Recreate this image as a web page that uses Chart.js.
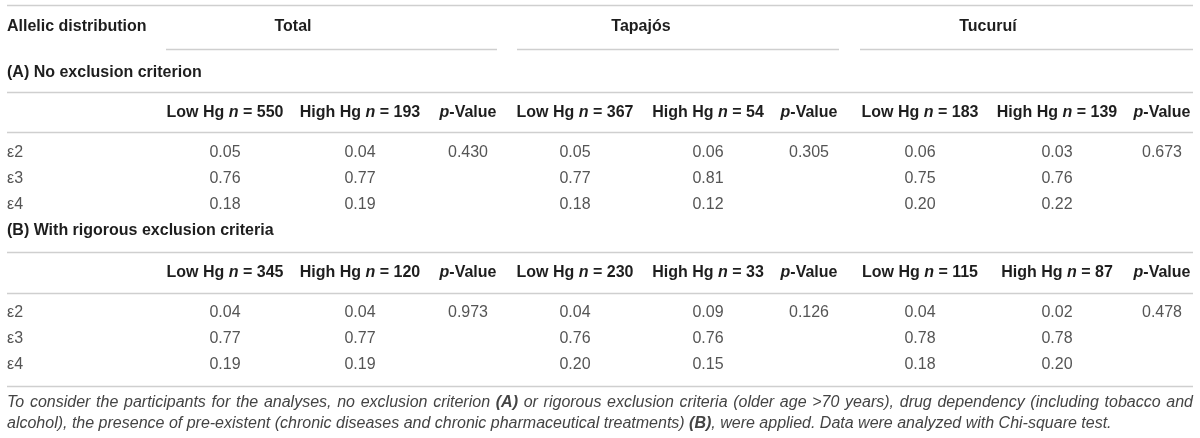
<!DOCTYPE html>
<html>
<head>
<meta charset="utf-8">
<script src="https://cdn.jsdelivr.net/npm/chart.js@4.4.1/dist/chart.umd.min.js"></script>
<style>
  html, body { margin: 0; padding: 0; background: #fff; }
  #wrap { width: 1200px; height: 438px; }
</style>
</head>
<body>
<div id="wrap"><canvas id="table" width="1200" height="438"></canvas></div>
<script>
const alleles = ['ε2', 'ε3', 'ε4'];
const groups = ['Total', 'Tapajós', 'Tucuruí'];

// sample sizes per group: (A) no exclusion, (B) rigorous exclusion
const nLowA = [550, 367, 183];
const nHighA = [193, 54, 139];
const nLowB = [345, 230, 115];
const nHighB = [120, 33, 87];

// (A) allele frequencies, rows follow `alleles`
const aTotalLow = [0.05, 0.76, 0.18];
const aTotalHigh = [0.04, 0.77, 0.19];
const aTapajosLow = [0.05, 0.77, 0.18];
const aTapajosHigh = [0.06, 0.81, 0.12];
const aTucuruiLow = [0.06, 0.75, 0.20];
const aTucuruiHigh = [0.03, 0.76, 0.22];
const aPValues = [0.430, 0.305, 0.673];

// (B) allele frequencies
const bTotalLow = [0.04, 0.77, 0.19];
const bTotalHigh = [0.04, 0.77, 0.19];
const bTapajosLow = [0.04, 0.76, 0.20];
const bTapajosHigh = [0.09, 0.76, 0.15];
const bTucuruiLow = [0.04, 0.78, 0.18];
const bTucuruiHigh = [0.02, 0.78, 0.20];
const bPValues = [0.973, 0.126, 0.478];

// ---- layout (scale units == canvas px) ----
const FAM = '"Liberation Sans", Arial, Helvetica, sans-serif';
const HEAD = '#1e1e1e';
const BODY = '#555';
const RULE = '#cfcfcf';
const LEFT = 7, RIGHT = 1193;
const colX = [225, 360, 468, 575, 708, 809, 920, 1057, 1162];
const groupTitleX = [293, 641, 988];
const groupRule = [[166, 497], [517, 839], [860, 1193]];
const rowsY = {
  title: 27, groupRule: 49,
  secA: 73, headA: 113, bodyA: [153, 179, 205],
  secB: 231, headB: 273, bodyB: [313, 339, 365],
  foot: [403, 424]
};
const fullRules = [5, 92, 132, 252, 293, 386];

const f = (style, size) => `${style} ${size}px ${FAM}`;

function headerRuns(label, n) {
  return [
    { text: label + ' ', font: f('bold', 16), color: HEAD },
    { text: 'n', font: f('italic bold', 16), color: HEAD },
    { text: ' = ' + n, font: f('bold', 16), color: HEAD }
  ];
}
const pRuns = [
  { text: 'p', font: f('italic bold', 16), color: HEAD },
  { text: '-Value', font: f('bold', 16), color: HEAD }
];

function headerDataset(nLow, nHigh, y) {
  const cells = [];
  groups.forEach((g, i) => {
    cells.push(headerRuns('Low Hg', nLow[i]));
    cells.push(headerRuns('High Hg', nHigh[i]));
    cells.push(pRuns);
  });
  return {
    data: cells.map((c, i) => ({ x: colX[i], y: y })),
    cells: cells, align: 'center'
  };
}

function valueDataset(values, col, rowY, digits) {
  return {
    data: values.map((v, i) => ({ x: colX[col], y: rowY[i] })),
    cells: values.map(v => [{ text: v.toFixed(digits), font: f('normal', 16), color: BODY }]),
    align: 'center'
  };
}

// cols: [low, high] pairs per group, p-value only on the first allele row
function blockDatasets(cols, pValues, rowY) {
  const out = [];
  cols.forEach((vals, k) => {
    const g = Math.floor(k / 2);
    out.push(valueDataset(vals, g * 3 + (k % 2), rowY, 2));
    if (k % 2 === 1) out.push(valueDataset([pValues[g]], g * 3 + 2, rowY, 3));
  });
  return out;
}

const alleleDataset = rowY => ({
  data: alleles.map((a, i) => ({ x: LEFT, y: rowY[i] })),
  cells: alleles.map(a => [{ text: a, font: f('normal', 16), color: BODY }]),
  align: 'left'
});

const textDataset = (text, x, y, align) => ({
  data: [{ x: x, y: y }],
  cells: [[{ text: text, font: f('bold', 16), color: HEAD }]],
  align: align
});

const datasets = [
  textDataset('Allelic distribution', LEFT, rowsY.title, 'left'),
  ...groups.map((g, i) => textDataset(g, groupTitleX[i], rowsY.title, 'center')),
  textDataset('(A) No exclusion criterion', LEFT, rowsY.secA, 'left'),
  headerDataset(nLowA, nHighA, rowsY.headA),
  alleleDataset(rowsY.bodyA),
  ...blockDatasets([aTotalLow, aTotalHigh, aTapajosLow, aTapajosHigh, aTucuruiLow, aTucuruiHigh], aPValues, rowsY.bodyA),
  textDataset('(B) With rigorous exclusion criteria', LEFT, rowsY.secB, 'left'),
  headerDataset(nLowB, nHighB, rowsY.headB),
  alleleDataset(rowsY.bodyB),
  ...blockDatasets([bTotalLow, bTotalHigh, bTapajosLow, bTapajosHigh, bTucuruiLow, bTucuruiHigh], bPValues, rowsY.bodyB)
].map(ds => Object.assign(ds, { pointRadius: 0, pointHoverRadius: 0, showLine: false }));

// footnote, line 1 is justified to the full table width
const noteFont = f('italic', 16), noteBold = f('italic bold', 16), NOTE = '#444';
const footLines = [
  [
    { text: 'To consider the participants for the analyses, no exclusion criterion ', font: noteFont, color: NOTE },
    { text: '(A)', font: noteBold, color: NOTE },
    { text: ' or rigorous exclusion criteria (older age >70 years), drug dependency (including tobacco and', font: noteFont, color: NOTE }
  ],
  [
    { text: 'alcohol), the presence of pre-existent (chronic diseases and chronic pharmaceutical treatments) ', font: noteFont, color: NOTE },
    { text: '(B)', font: noteBold, color: NOTE },
    { text: ', were applied. Data were analyzed with Chi-square test.', font: noteFont, color: NOTE }
  ]
];

function runsWidth(ctx, runs) {
  return runs.reduce((w, r) => { ctx.font = r.font; return w + ctx.measureText(r.text).width; }, 0);
}

function drawRuns(ctx, runs, x, y, align, justifyTo) {
  const w = runsWidth(ctx, runs);
  let sx = align === 'center' ? x - w / 2 : align === 'right' ? x - w : x;
  let extra = 0;
  if (justifyTo) {
    const spaces = runs.reduce((n, r) => n + (r.text.split(' ').length - 1), 0);
    extra = spaces ? (justifyTo - w) / spaces : 0;
  }
  runs.forEach(r => {
    ctx.font = r.font;
    ctx.fillStyle = r.color;
    const parts = r.text.split(' ');
    parts.forEach((p, j) => {
      if (p) ctx.fillText(p, sx, y);
      sx += ctx.measureText(p).width;
      if (j < parts.length - 1) sx += ctx.measureText(' ').width + extra;
    });
  });
}

const tablePlugin = {
  id: 'tableText',
  beforeDatasetsDraw(chart) {
    const { ctx, scales: { x, y } } = chart;
    ctx.save();
    ctx.strokeStyle = RULE;
    ctx.lineWidth = 1.5;
    const hline = (x0, x1, yy) => {
      const py = Math.round(y.getPixelForValue(yy)) + 0.5;
      ctx.beginPath();
      ctx.moveTo(x.getPixelForValue(x0), py);
      ctx.lineTo(x.getPixelForValue(x1), py);
      ctx.stroke();
    };
    fullRules.forEach(r => hline(LEFT, RIGHT, r));
    groupRule.forEach(([a, b]) => hline(a, b, rowsY.groupRule));
    ctx.restore();
  },
  afterDatasetsDraw(chart) {
    const { ctx, scales: { x, y } } = chart;
    ctx.save();
    ctx.textBaseline = 'middle';
    ctx.textAlign = 'left';
    chart.data.datasets.forEach((ds, i) => {
      chart.getDatasetMeta(i).data.forEach((el, k) => {
        drawRuns(ctx, ds.cells[k], el.x, el.y, ds.align);
      });
    });
    footLines.forEach((runs, i) => {
      const py = y.getPixelForValue(rowsY.foot[i]);
      const px = x.getPixelForValue(LEFT);
      const full = x.getPixelForValue(RIGHT) - px;
      drawRuns(ctx, runs, px, py, 'left', i === 0 ? full : null);
    });
    ctx.restore();
  }
};

new Chart(document.getElementById('table').getContext('2d'), {
  type: 'scatter',
  data: { datasets: datasets },
  options: {
    responsive: false,
    animation: false,
    events: [],
    layout: { padding: 0 },
    plugins: { legend: { display: false }, tooltip: { enabled: false } },
    scales: {
      x: { type: 'linear', min: 0, max: 1200, display: false },
      y: { type: 'linear', min: 0, max: 438, reverse: true, display: false }
    }
  },
  plugins: [tablePlugin]
});
</script>
</body>
</html>
